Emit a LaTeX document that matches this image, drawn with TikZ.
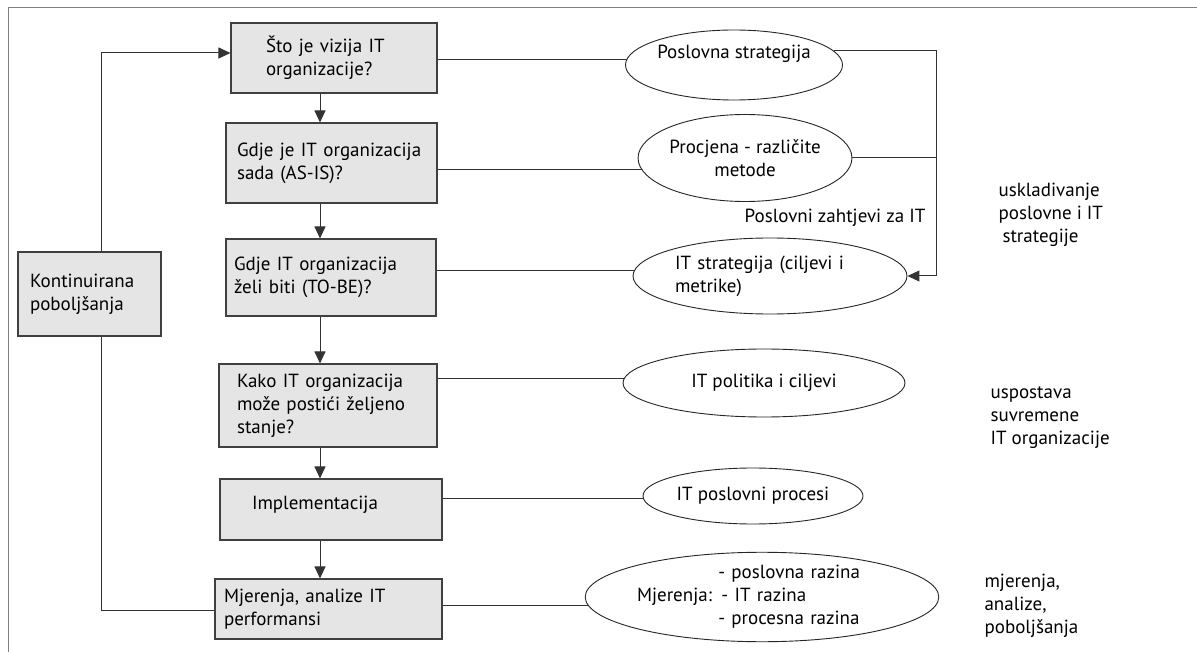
\documentclass[tikz,border=0pt]{standalone}
\usepackage{fontspec}
\setmainfont{PT Sans}
\usetikzlibrary{shapes.geometric,arrows.meta}

\pgfdeclarelayer{bg}
\pgfsetlayers{bg,main}

\tikzset{
  stepbox/.style={draw=black!75, fill=black!10, line width=1.1pt, align=left, inner sep=0pt},
  oval/.style={ellipse, draw=black!85, fill=white, line width=0.9pt, inner sep=0pt, align=center},
  conn/.style={draw=black!80, line width=1pt},
  arr/.style={conn, -{Triangle[length=12pt,width=11pt]}},
}

\begin{document}
\begin{tikzpicture}[x=1pt,y=-1pt,font=\fontsize{19}{23}\selectfont]
    \useasboundingbox (0,0) rectangle (1197,652);
    \draw[black!50, line width=1pt] (8,652) -- (8,8) -- (1197,8);

    % left column
    \node[stepbox, minimum width=206pt, minimum height=70pt, text width=136pt] (vizija) at (334,58) {Što je vizija IT\\organizacije?};
    \node[stepbox, minimum width=211pt, minimum height=80pt, text width=189pt] (asis) at (331.5,163) {Gdje je IT organizacija\\sada (AS-IS)?};
    \node[stepbox, minimum width=210pt, minimum height=77pt, text width=194pt] (tobe) at (331,277.5) {Gdje IT organizacija\\želi biti (TO-BE)?};
    \node[stepbox, minimum width=218pt, minimum height=83pt, text width=182pt] (kako) at (328,405.5) {Kako IT organizacija\\može postići željeno\\stanje?};
    \node[stepbox, minimum width=222pt, minimum height=61pt, text width=158pt, text depth=14pt] (impl) at (331,509.5) {Implementacija};
    \node[stepbox, minimum width=227pt, minimum height=60pt, text width=209pt] (mjer) at (328.5,609) {Mjerenja, analize IT\\performansi};
    \node[stepbox, minimum width=143pt, minimum height=84pt, text width=119pt] (kont) at (89.5,294) {Kontinuirana\\poboljšanja};

    % ellipses
    \node[oval, minimum width=206pt, minimum height=70pt, text depth=27pt] (pstrat) at (734,65) {Poslovna strategija};
    \node[oval, minimum width=206pt, minimum height=87pt] (procj) at (745,158) {Procjena - različite\\metode};
    \node[oval, minimum width=274pt, minimum height=76pt, align=left, text width=190pt] (itstrat) at (770,276) {IT strategija (ciljevi i\\metrike)};
    \node[oval, minimum width=282pt, minimum height=68pt] (itpol) at (764,383) {IT politika i ciljevi};
    \node[oval, minimum width=220pt, minimum height=56pt] (itproc) at (753,496) {IT poslovni procesi};
    \node[oval, minimum width=304pt, minimum height=78pt, align=left, text width=250pt] (mjerenja) at (762,597)
      {\hphantom{Mjerenja:} - poslovna razina\\Mjerenja: - IT razina\\\hphantom{Mjerenja:} - procesna razina};

    % right side
    \node (zahtj) at (835,218) {Poslovni zahtjevi za IT};
    \node[align=left, anchor=west] (uskl) at (995,215) {uskladivanje\\poslovne i IT\\\hspace*{4pt}strategije};
    \node[align=left, anchor=west] (uspost) at (987,418) {uspostava\\suvremene\\IT organizacije};
    \node[align=left, anchor=west] (mjpob) at (981,606) {mjerenja,\\analize,\\poboljšanja};

    \coordinate (ax) at (320,0);
    \coordinate (lp) at (101,0);
    \coordinate (rb) at (936,0);

    \foreach \a/\b in {vizija/asis, asis/tobe, tobe/kako, kako/impl, impl/mjer}
      \draw[arr] (ax |- \a.south) -- (ax |- \b.north);

    \begin{pgfonlayer}{bg}
      \draw[conn] ([yshift=-2pt]vizija.east) -- ([yshift=-2pt]vizija.east -| pstrat.center);
      \draw[conn] ([yshift=-7pt]asis.east) -- ([yshift=-7pt]asis.east -| procj.center);
      \draw[conn] ([yshift=7pt]tobe.east) -- ([yshift=7pt]tobe.east -| itstrat.center);
      \draw[conn] ([yshift=27pt]kako.east) -- ([yshift=27pt]kako.east -| itpol.center);
      \draw[conn] ([yshift=11pt]impl.east) -- ([yshift=11pt]impl.east -| itproc.center);
      \draw[conn] ([yshift=4pt]mjer.east) -- ([yshift=4pt]mjer.east -| mjerenja.center);
      \draw[conn] ([yshift=-1pt]mjer.west) -| (lp |- kont.south);
    \end{pgfonlayer}

    \draw[arr] (lp |- kont.north) |- ([yshift=5pt]vizija.west);
    \draw[arr] (pstrat.8) -- (pstrat.8 -| rb) |- (itstrat.east);
    \draw[conn] (procj.east) -- (procj.east -| rb);
\end{tikzpicture}
\end{document}
